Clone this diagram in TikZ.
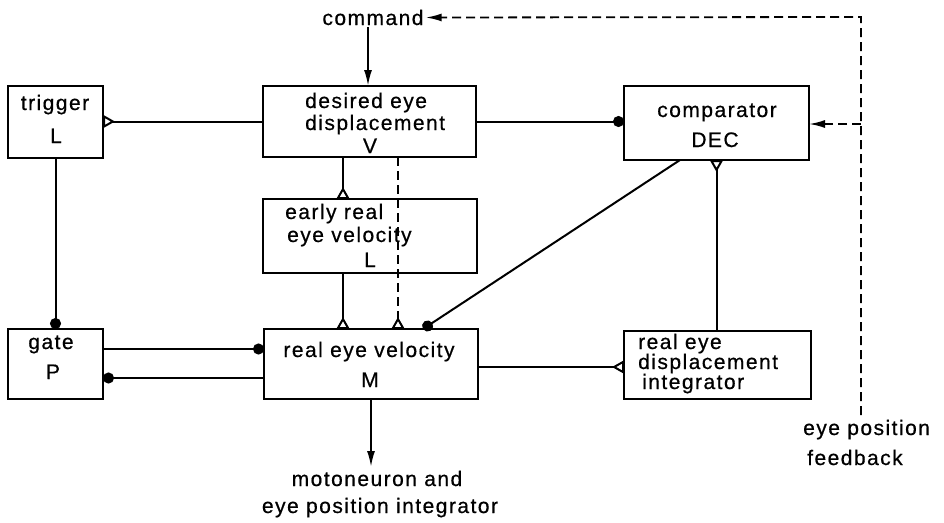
\documentclass[tikz,border=0pt]{standalone}
\usepackage{fontspec}
\setmainfont{Liberation Sans}[LetterSpace=7,FakeBold=0.6]
\usetikzlibrary{arrows.meta}
\begin{document}
\begin{tikzpicture}[x=1pt,y=-1pt,
  font=\fontsize{21}{24}\selectfont,
  box/.style={draw, line width=2.2pt, inner sep=0pt, outer sep=0pt},
  lbl/.style={inner sep=0pt, anchor=base},
  lbll/.style={inner sep=0pt, anchor=base west},
  wire/.style={line width=2pt},
  fb/.style={line width=1.8pt, dash pattern=on 9pt off 5pt},
  exc/.style={-{Triangle[open,reversed,length=12pt,width=13pt,line width=2pt]}},
  inh/.style={-{Circle[length=11pt]}},
  feed/.style={-{Latex[length=16pt,width=8pt]}},
]
\useasboundingbox (0,0) rectangle (944,522);

% boxes
\node[box, minimum width=95pt,  minimum height=72pt] (trig)  at (55.5,122)  {};
\node[box, minimum width=213pt, minimum height=71pt] (des)   at (369.5,121.5) {};
\node[box, minimum width=185pt, minimum height=74pt] (comp)  at (716.5,123) {};
\node[box, minimum width=214pt, minimum height=74pt] (early) at (370,236)   {};
\node[box, minimum width=95pt,  minimum height=70pt] (gate)  at (55.5,364)  {};
\node[box, minimum width=214pt, minimum height=70pt] (real)  at (371,364)   {};
\node[box, minimum width=187pt, minimum height=68pt] (integ) at (717.5,365) {};

% box texts
\node[lbl]  (trigA)  at (55,110)  {trigger};
\node[lbl]  (trigB)  at (56,143)  {L};
\node[lbll] (desA)   at (305,108) {desired eye};
\node[lbll] (desB)   at (305,130) {displacement};
\node[lbl]  (desC)   at (370,153) {V};
\node[lbl]  (compA)  at (717,117) {comparator};
\node[lbl]  (compB)  at (715,147) {DEC};
\node[lbll] (earlyA) at (285,219) {early real};
\node[lbll] (earlyB) at (287,242) {eye velocity};
\node[lbl]  (earlyC) at (370,267) {L};
\node[lbl]  (gateA)  at (51,349)  {gate};
\node[lbl]  (gateB)  at (53,379)  {P};
\node[lbl]  (realA)  at (369,357) {real eye velocity};
\node[lbl]  (realB)  at (370,387) {M};
\node[lbll] (integA) at (638,349) {real eye};
\node[lbll] (integB) at (638,369) {displacement};
\node[lbll] (integC) at (642,389) {integrator};

% free texts
\node[lbl, inner sep=2pt] (cmd) at (373,25) {command};
\node[lbll] (fbA) at (803,435) {eye position};
\node[lbll] (fbB) at (807,465) {feedback};
\node[lbl] (motA) at (377,486) {motoneuron and};
\node[lbl] (motB) at (380,513) {eye position integrator};

% helper coordinates
\coordinate (x342) at (343,0);
\coordinate (x368) at (368,0);
\coordinate (x397) at (398,0);
\coordinate (x423) at (423,0);
\coordinate (x680) at (680,0);
\coordinate (y349) at (0,349);
\coordinate (y367) at (0,367);
\coordinate (y378) at (0,378);
\coordinate (out) at (371,467);
\coordinate (fbBottom) at (861,415);
\coordinate (fbTop) at (861,17);
\coordinate (fbBranch) at (861,124);

% connectors
\draw[wire,exc] (des.west) -- (des.west -| trig.east);
\draw[wire,inh] (des.east) -- (des.east -| comp.west);
\draw[wire,exc] (des.south -| x342) -- (early.north -| x342);
\draw[wire,exc] (early.south -| x342) -- (real.north -| x342);
\draw[fb,exc] (des.south -| x397) -- (real.north -| x397);
\draw[wire,inh] (comp.south -| x680) -- (real.north -| x423);
\draw[wire,exc] (integ.north -| comp.south) -- (comp.south);
\draw[wire,inh] (trig.south) -- (gate.north);
\draw[wire,inh] (gate.east |- y349) -- (real.west |- y349);
\draw[wire,inh] (real.west |- y378) -- (gate.east |- y378);
\draw[wire,exc] (real.east |- y367) -- (integ.west |- y367);
\draw[wire,feed] (real.south) -- (out);
\draw[wire,feed] (cmd.south -| x368) -- (des.north -| x368);
\draw[fb,feed] (fbBottom) -- (fbTop) -- (cmd.east);
\draw[fb,feed] (fbBranch) -- (comp.east |- fbBranch);
\end{tikzpicture}
\end{document}
